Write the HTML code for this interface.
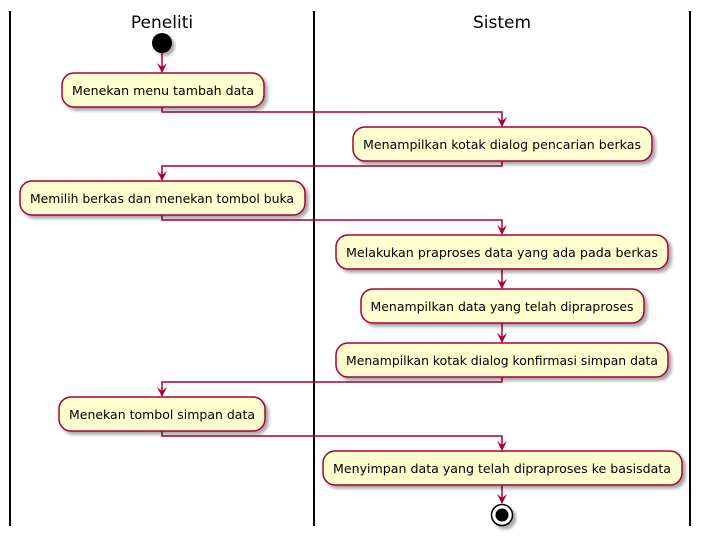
<!DOCTYPE html>
<html><head><meta charset="utf-8"><style>body{margin:0;background:#fff}svg{display:block}</style></head><body>
<svg width="701" height="536" viewBox="0 0 701 536" xmlns="http://www.w3.org/2000/svg" font-family="DejaVu Sans, Liberation Sans, sans-serif">
<defs>
<filter id="sh" x="-10%" y="-20%" width="130%" height="160%"><feDropShadow dx="3" dy="3" stdDeviation="1.5" flood-color="#000" flood-opacity="0.35"/></filter>
<marker id="ar" viewBox="0 0 10 10" refX="9" refY="5" markerWidth="10" markerHeight="10" orient="auto" markerUnits="userSpaceOnUse"><path d="M0,0 L10,5 L0,10 L4,5 Z" fill="#A80036"/></marker>
</defs>
<g stroke="#000" stroke-width="2">
<line x1="10" y1="11" x2="10" y2="526"/><line x1="314" y1="11" x2="314" y2="526"/><line x1="690" y1="11" x2="690" y2="526"/>
</g>
<text x="162" y="28" font-size="17" text-anchor="middle">Peneliti</text>
<text x="502" y="28" font-size="17" text-anchor="middle">Sistem</text>
<circle cx="162" cy="43" r="10" fill="#000" filter="url(#sh)"/>
<g fill="none" stroke="#A80036" stroke-width="1.5">
<path d="M162,53 V72" marker-end="url(#ar)"/>
<path d="M162,107 V112 H502 V126" marker-end="url(#ar)"/>
<path d="M502,161 V166 H162 V180" marker-end="url(#ar)"/>
<path d="M162,215 V220 H502 V234" marker-end="url(#ar)"/>
<path d="M502,269 V288" marker-end="url(#ar)"/>
<path d="M502,323 V342" marker-end="url(#ar)"/>
<path d="M502,377 V382 H162 V396" marker-end="url(#ar)"/>
<path d="M162,431 V436 H502 V450" marker-end="url(#ar)"/>
<path d="M502,485 V503" marker-end="url(#ar)"/>
</g>
<g fill="#FEFECE" stroke="#A80036" stroke-width="1.5" filter="url(#sh)">
<rect x="62" y="73" width="202" height="34" rx="12"/>
<rect x="353" y="127" width="299" height="34" rx="12"/>
<rect x="20" y="181" width="285" height="34" rx="12"/>
<rect x="336" y="235" width="332" height="34" rx="12"/>
<rect x="361" y="289" width="283" height="34" rx="12"/>
<rect x="336" y="343" width="332" height="34" rx="12"/>
<rect x="59" y="397" width="206" height="34" rx="12"/>
<rect x="323" y="451" width="359" height="34" rx="12"/>
</g>
<g font-size="12" text-anchor="middle" fill="#000">
<text x="163" y="95" textLength="182" lengthAdjust="spacingAndGlyphs">Menekan menu tambah data</text>
<text x="502" y="149" textLength="278" lengthAdjust="spacingAndGlyphs">Menampilkan kotak dialog pencarian berkas</text>
<text x="162" y="203" textLength="264" lengthAdjust="spacingAndGlyphs">Memilih berkas dan menekan tombol buka</text>
<text x="502" y="257" textLength="312" lengthAdjust="spacingAndGlyphs">Melakukan praproses data yang ada pada berkas</text>
<text x="502" y="311" textLength="263" lengthAdjust="spacingAndGlyphs">Menampilkan data yang telah dipraproses</text>
<text x="502" y="365" textLength="312" lengthAdjust="spacingAndGlyphs">Menampilkan kotak dialog konfirmasi simpan data</text>
<text x="162" y="419" textLength="186" lengthAdjust="spacingAndGlyphs">Menekan tombol simpan data</text>
<text x="502" y="473" textLength="338" lengthAdjust="spacingAndGlyphs">Menyimpan data yang telah dipraproses ke basisdata</text>
</g>
<circle cx="502" cy="515" r="10.5" fill="#fff" stroke="#000" stroke-width="1.5" filter="url(#sh)"/>
<circle cx="502" cy="515" r="6.5" fill="#000"/>
</svg>
</body></html>
